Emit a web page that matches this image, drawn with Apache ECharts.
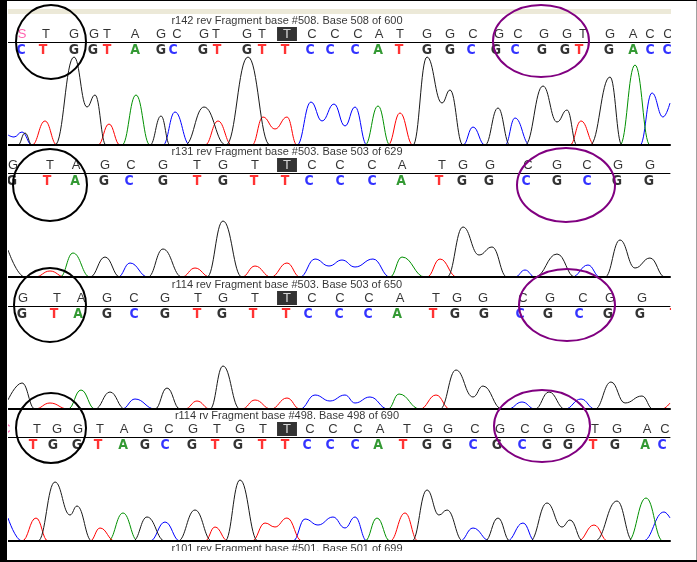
<!DOCTYPE html>
<html>
<head>
<meta charset="utf-8">
<style>
  html, body { margin: 0; padding: 0; background: #fff; }
  #chart { width: 697px; height: 562px; }
</style>
<script src="https://cdn.jsdelivr.net/npm/echarts@6/dist/echarts.min.js"></script>
</head>
<body>
<div id="chart"></div>
<script>
// trace data: [scan position, signal height]
const titles = [
  'r142 rev Fragment base #508. Base 508 of 600',
  'r131 rev Fragment base #503. Base 503 of 629',
  'r114 rev Fragment base #503. Base 503 of 650',
  'r114 rv Fragment base #498. Base 498 of 690',
  'r101 rev Fragment base #501. Base 501 of 699'
]

// panel 1 (r142)
const p1Upper = ['S','T','G','G','T','A','G','C','G','T','G','T','T','C','C','C','A','T','G','G','C','G','C','G','G','T','G','A','C','C']
const p1UpperX = [22,46,74,94,107,135,161,177,204,216,247,262,287,312,335,358,379,400,427,450,473,499,518,544,567,583,610,633,650,668]
const p1Calls = ['C','T','G','G','T','A','G','C','G','T','G','T','T','C','C','C','A','T','G','G','C','G','C','G','G','T','G','A','C','C']
const p1CallsX = [21,43,74,93,107,135,161,173,203,217,247,262,285,310,330,355,378,399,427,450,471,496,515,542,565,579,609,633,650,667]
const p1Black = [[8,0],[18,0],[25,12],[32,0],[55,0],[74,88],[87,38],[95,50],[106,0],[150,0],[161,29],[170,0],[185,0],[204,38],[226,0],[248,88],[270,0],[413,0],[427,88],[442,42],[450,55],[463,0],[485,0],[498,37],[510,0],[525,0],[543,59],[557,23],[567,35],[577,0],[590,0],[610,68],[622,0],[670,0]]
const p1Red = [[8,0],[32,0],[45,24],[57,0],[98,0],[109,21],[120,0],[205,0],[218,24],[232,0],[252,0],[263,28],[275,16],[287,28],[297,0],[388,0],[400,32],[413,0],[570,0],[581,24],[595,0],[670,0]]
const p1Green = [[8,0],[122,0],[136,50],[150,0],[365,0],[378,39],[390,0],[620,0],[635,80],[650,0],[670,0]]
const p1Blue = [[8,10],[14,8],[22,13],[32,0],[163,0],[175,33],[190,0],[297,0],[311,43],[322,24],[334,41],[345,19],[355,38],[367,0],[463,0],[473,18],[485,0],[505,0],[515,27],[530,0],[640,0],[652,52],[663,28],[670,42]]

// panel 2 (r131)
const p2Upper = ['G','T','A','G','C','G','T','G','T','T','C','C','C','A','T','G','G','C','G','C','G','G']
const p2UpperX = [13,50,76,105,131,163,197,223,255,287,312,340,372,402,442,463,490,528,557,587,618,650]
const p2Calls = ['G','T','A','G','C','G','T','G','T','T','C','C','C','A','T','G','G','C','G','C','G','G']
const p2CallsX = [12,47,75,104,129,163,197,223,254,285,309,340,372,401,439,462,489,526,557,587,617,649]
const p2Black = [[8,27],[25,0],[90,0],[105,20],[120,0],[148,0],[163,28],[182,0],[207,0],[223,56],[242,0],[447,0],[463,50],[479,22],[492,30],[507,0],[535,0],[557,23],[575,0],[605,0],[620,37],[635,9],[650,19],[665,0],[670,0]]
const p2Red = [[8,0],[35,0],[50,6],[65,0],[182,0],[195,9],[210,0],[242,0],[255,11],[271,0],[287,14],[300,0],[427,0],[440,18],[457,0],[670,0]]
const p2Green = [[8,0],[60,0],[73,24],[90,0],[390,0],[402,20],[425,0],[670,0]]
const p2Blue = [[8,0],[118,0],[130,14],[148,0],[300,0],[315,18],[329,11],[342,17],[355,10],[373,18],[390,0],[515,0],[525,7],[535,0],[572,0],[588,12],[600,0],[670,0]]

// panel 3 (r114 rev)
const p3Upper = ['G','T','A','G','C','G','T','G','T','T','C','C','C','A','T','G','G','C','G','C','G','G']
const p3UpperX = [23,57,81,107,134,165,198,223,255,287,312,340,369,400,436,457,483,523,550,583,610,642]
const p3Calls = ['G','T','A','G','C','G','T','G','T','T','C','C','C','A','T','G','G','C','G','C','G','G','T']
const p3CallsX = [22,54,78,107,134,165,197,222,253,286,308,339,368,397,433,455,484,520,548,579,608,640,674]
const p3Black = [[8,9],[22,26],[35,0],[95,0],[110,17],[125,0],[155,0],[167,21],[180,0],[210,0],[223,43],[240,0],[440,0],[456,39],[473,12],[483,23],[502,0],[535,0],[549,17],[565,0],[595,0],[611,27],[625,6],[642,13],[653,0],[670,0]]
const p3Red = [[8,0],[35,0],[50,6],[68,0],[185,0],[197,8],[210,0],[242,0],[255,9],[271,0],[287,11],[300,0],[420,0],[436,14],[450,0],[662,0],[670,6]]
const p3Green = [[8,0],[68,0],[81,19],[95,0],[388,0],[399,15],[420,0],[670,0]]
const p3Blue = [[8,0],[122,0],[135,10],[155,0],[300,0],[315,14],[330,8],[345,14],[355,6],[370,12],[388,0],[508,0],[522,7],[535,0],[565,0],[581,10],[595,0],[670,0]]

// panel 4 (r114 rv)
const p4Upper = ['C','T','G','G','T','A','G','C','G','T','G','T','T','C','C','C','A','T','G','G','C','G','C','G','G','T','G','A','C']
const p4UpperX = [6,37,57,78,100,124,148,169,193,217,240,263,287,310,333,358,380,407,428,448,475,500,525,548,570,595,617,647,665]
const p4Calls = ['C','T','G','G','T','A','G','C','G','T','G','T','T','C','C','C','A','T','G','G','C','G','C','G','G','T','G','A','C']
const p4CallsX = [3,33,53,77,98,123,145,165,192,215,238,262,285,307,330,355,378,403,427,447,473,497,522,547,568,593,615,645,662]
const p4Black = [[8,0],[38,0],[55,59],[70,26],[77,35],[92,0],[133,0],[147,24],[165,0],[178,0],[195,31],[212,0],[225,0],[240,61],[258,0],[412,0],[427,51],[439,26],[447,31],[463,0],[485,0],[498,23],[510,0],[530,0],[547,38],[562,14],[570,21],[583,0],[595,0],[617,40],[633,0],[670,0]]
const p4Red = [[8,0],[22,0],[36,23],[48,0],[90,0],[100,13],[115,0],[205,0],[215,14],[228,0],[252,0],[265,18],[275,14],[287,23],[302,0],[390,0],[405,28],[418,0],[578,0],[594,16],[608,0],[670,0]]
const p4Green = [[8,0],[108,0],[123,28],[138,0],[365,0],[377,23],[390,0],[628,0],[646,43],[663,0],[670,0]]
const p4Blue = [[8,23],[22,0],[150,0],[165,19],[180,0],[293,0],[305,22],[318,16],[333,24],[345,13],[355,24],[367,0],[460,0],[473,13],[490,0],[507,0],[523,18],[535,0],[643,0],[664,29],[670,23]]

const highlightX = 287

// layout
const lineTops = [42, 173, 306, 437]
const baselines = [145, 277, 409, 541]
const callColors = { A: '#008000', C: '#0000ff', G: '#000000', T: '#ff0000', S: '#ff3c9c' }
const traceColors = { black: '#1a1a1a', red: '#ff0000', green: '#009000', blue: '#0000ff' }
const font = 'Liberation Sans'

const panels = [
  { upper: p1Upper, upperX: p1UpperX, calls: p1Calls, callsX: p1CallsX, black: p1Black, red: p1Red, green: p1Green, blue: p1Blue },
  { upper: p2Upper, upperX: p2UpperX, calls: p2Calls, callsX: p2CallsX, black: p2Black, red: p2Red, green: p2Green, blue: p2Blue },
  { upper: p3Upper, upperX: p3UpperX, calls: p3Calls, callsX: p3CallsX, black: p3Black, red: p3Red, green: p3Green, blue: p3Blue },
  { upper: p4Upper, upperX: p4UpperX, calls: p4Calls, callsX: p4CallsX, black: p4Black, red: p4Red, green: p4Green, blue: p4Blue }
]

const chart = echarts.init(document.getElementById('chart'), null, { renderer: 'canvas' })

const grid = []
const xAxis = []
const yAxis = []
const series = []

panels.forEach((p, i) => {
  const h = baselines[i] - lineTops[i]
  grid.push({ left: 8, right: 27, top: lineTops[i], height: h })
  // bottom = thick baseline, top = thin separator under the reference row
  xAxis.push({
    type: 'value', gridIndex: i, min: 8, max: 670, position: 'bottom', z: 10,
    axisLine: { lineStyle: { color: '#000', width: 2 } },
    axisTick: { show: false }, axisLabel: { show: false }, splitLine: { show: false }
  })
  xAxis.push({
    type: 'value', gridIndex: i, min: 8, max: 670, position: 'top',
    axisLine: { lineStyle: { color: '#000', width: 1 } },
    axisTick: { show: false }, axisLabel: { show: false }, splitLine: { show: false }
  })
  yAxis.push({ type: 'value', gridIndex: i, min: 0, max: h, show: false })

  ;['blue', 'green', 'red', 'black'].forEach(ch => {
    series.push({
      type: 'line', xAxisIndex: i * 2, yAxisIndex: i, data: p[ch],
      smooth: 0.45, smoothMonotone: 'x', showSymbol: false, silent: true,
      lineStyle: { color: traceColors[ch], width: 1 }
    })
  })

  const upperH = baselines[i] - (lineTops[i] - 8)
  const callH = baselines[i] - (lineTops[i] + 8)

  series.push({
    type: 'scatter', xAxisIndex: i * 2, yAxisIndex: i, clip: false, silent: true,
    symbolSize: 1, itemStyle: { color: 'transparent' },
    label: { show: true, position: 'inside', formatter: '{b}', fontFamily: font, fontSize: 13, color: '#000' },
    data: p.upper.map((b, k) => {
      const item = { name: b, value: [p.upperX[k], upperH] }
      if (p.upperX[k] === highlightX) {
        item.label = { color: '#fff', backgroundColor: '#000', padding: [1, 6, 0, 6], lineHeight: 13 }
      } else if (b === 'S' || k === 0 && i === 3) {
        item.label = { color: callColors.S }
      }
      return item
    })
  })

  series.push({
    type: 'scatter', xAxisIndex: i * 2, yAxisIndex: i, clip: false, silent: true,
    symbolSize: 1, itemStyle: { color: 'transparent' },
    label: {
      show: true, position: 'inside', formatter: '{b}',
      fontFamily: "'DejaVu Sans Condensed', 'Liberation Sans Narrow', 'DejaVu Sans', sans-serif",
      fontWeight: 'bold', fontSize: 14
    },
    data: p.calls.map((b, k) => ({ name: b, value: [p.callsX[k], callH], label: { color: callColors[b] } }))
  })

  // fragment title, centred on the highlighted base
  series.push({
    type: 'scatter', xAxisIndex: i * 2, yAxisIndex: i, clip: false, silent: true,
    symbolSize: 1, itemStyle: { color: 'transparent' },
    label: { show: true, position: 'inside', formatter: '{b}', fontFamily: font, fontSize: 11, color: '#000' },
    data: [{ name: titles[i], value: [highlightX, baselines[i] - (lineTops[i] - 21)] }]
  })
})

// next fragment's title, cut off at the bottom of the window
series.push({
  type: 'scatter', xAxisIndex: 6, yAxisIndex: 3, clip: false, silent: true,
  symbolSize: 1, itemStyle: { color: 'transparent' },
  label: { show: true, position: 'inside', formatter: '{b}', fontFamily: font, fontSize: 11, color: '#000' },
  data: [{ name: titles[4], value: [highlightX, -8] }]
})

const graphic = [
  { type: 'rect', shape: { x: 8, y: 9, width: 663, height: 5 }, style: { fill: '#ece9d8' }, z: -1 },
  // black and purple marks drawn over the traces
  { type: 'ellipse', shape: { cx: 51, cy: 42, rx: 35, ry: 37 }, style: { fill: 'none', stroke: '#000', lineWidth: 2 }, z: 60 },
  { type: 'ellipse', shape: { cx: 541, cy: 41, rx: 48, ry: 36 }, style: { fill: 'none', stroke: '#800080', lineWidth: 2 }, z: 60 },
  { type: 'ellipse', shape: { cx: 50, cy: 185, rx: 37, ry: 36 }, style: { fill: 'none', stroke: '#000', lineWidth: 2 }, z: 60 },
  { type: 'ellipse', shape: { cx: 566, cy: 185, rx: 49, ry: 37 }, style: { fill: 'none', stroke: '#800080', lineWidth: 2 }, z: 60 },
  { type: 'ellipse', shape: { cx: 50, cy: 305, rx: 36, ry: 37 }, style: { fill: 'none', stroke: '#000', lineWidth: 2 }, z: 60 },
  { type: 'ellipse', shape: { cx: 567, cy: 305, rx: 48, ry: 36 }, style: { fill: 'none', stroke: '#800080', lineWidth: 2 }, z: 60 },
  { type: 'ellipse', shape: { cx: 51, cy: 428, rx: 35, ry: 35 }, style: { fill: 'none', stroke: '#000', lineWidth: 2 }, z: 60 },
  { type: 'ellipse', shape: { cx: 542, cy: 426, rx: 48, ry: 36 }, style: { fill: 'none', stroke: '#800080', lineWidth: 2 }, z: 60 },
  // window frame
  { type: 'rect', shape: { x: 671, y: 0, width: 26, height: 562 }, style: { fill: '#fff' }, z: 80 },
  { type: 'rect', shape: { x: 8, y: 551, width: 663, height: 9 }, style: { fill: '#fff' }, z: 80 },
  { type: 'rect', shape: { x: 696, y: 0, width: 1, height: 562 }, style: { fill: '#a0a0a0' }, z: 90 },
  { type: 'rect', shape: { x: 0, y: 0, width: 7, height: 562 }, style: { fill: '#000' }, z: 90 },
  { type: 'rect', shape: { x: 7, y: 0, width: 1, height: 562 }, style: { fill: '#fff' }, z: 90 },
  { type: 'rect', shape: { x: 0, y: 0, width: 697, height: 1 }, style: { fill: '#000' }, z: 90 },
  { type: 'rect', shape: { x: 0, y: 560, width: 697, height: 2 }, style: { fill: '#000' }, z: 90 }
]

chart.setOption({
  animation: false,
  backgroundColor: '#fff',
  grid,
  xAxis,
  yAxis,
  series,
  graphic
})
</script>
</body>
</html>
